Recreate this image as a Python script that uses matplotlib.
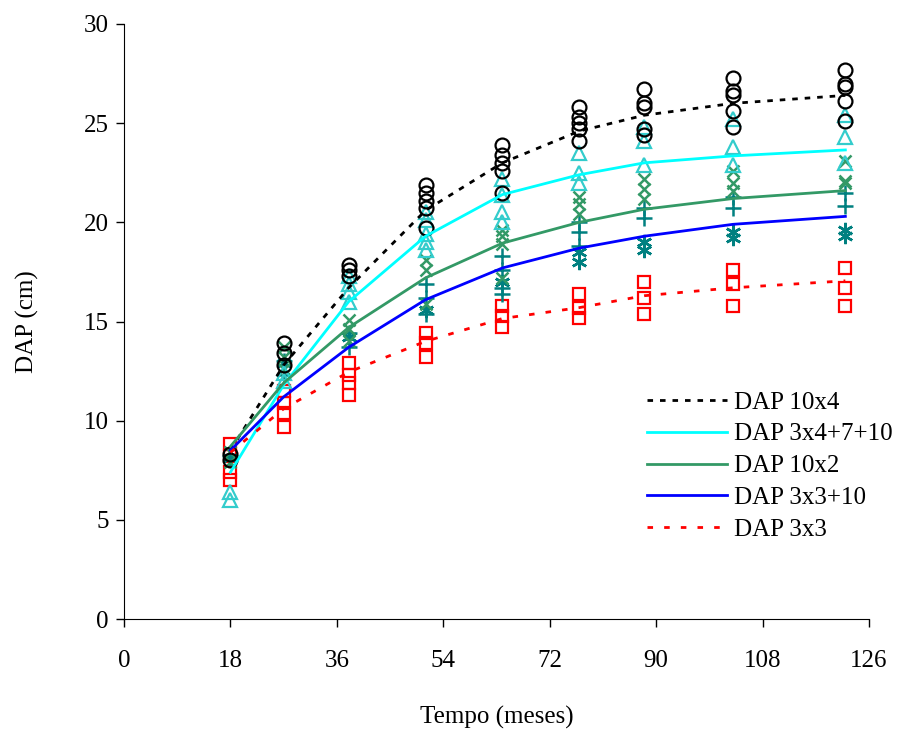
import matplotlib
matplotlib.use("Agg")
import matplotlib.pyplot as plt

plt.rcParams['font.family'] = ['Liberation Serif', 'DejaVu Serif']

# measurement times (months)
times = [18, 27, 38, 51, 64, 77, 88, 103, 122]

# fitted curves (cm)
fit_10x4 = [8.5, 12.8, 16.7, 20.6, 23.0, 24.6, 25.4, 26.0, 26.4]
fit_3x4 = [7.4, 11.8, 16.0, 19.3, 21.4, 22.4, 23.0, 23.35, 23.65]
fit_10x2 = [8.7, 11.9, 14.7, 17.2, 18.95, 20.0, 20.66, 21.2, 21.6]
fit_3x3_10 = [8.5, 11.2, 13.7, 16.1, 17.7, 18.7, 19.3, 19.9, 20.3]
fit_3x3 = [8.4, 10.6, 12.45, 14.0, 15.15, 15.7, 16.3, 16.7, 17.05]

# observed values per time
obs_circ = [[8.3, 8.0], [13.9, 13.4, 12.8], [17.85, 17.6, 17.3], [21.9, 21.5, 21.1, 20.7, 19.7],
            [23.9, 23.4, 23.0, 22.6, 21.5], [25.8, 25.3, 25.0, 24.7, 24.1],
            [26.7, 26.0, 25.8, 24.7, 24.4], [27.3, 26.6, 26.4, 25.6, 24.8],
            [27.7, 27.0, 26.8, 26.1, 25.1]]
obs_tri = [[6.4, 6.0], [12.4, 12.0], [17.3, 16.9, 16.5, 16.0], [20.5, 20.1, 19.4, 19.0, 18.6],
           [22.2, 21.4, 20.5, 20.0], [23.5, 22.5, 22.0], [24.8, 24.1, 22.9],
           [25.2, 23.8, 22.9], [25.4, 24.3, 23.0]]
obs_x = [[8.4, 7.9], [13.7, 13.2, 12.6], [15.1, 14.6, 14.0], [18.1, 17.6, 15.9],
         [19.6, 19.3, 18.9, 17.2], [21.3, 20.9, 20.4], [22.2, 21.7, 21.2],
         [22.6, 22.0, 21.6], [23.1, 22.1, 22.0]]
obs_plus = [[8.2], [13.0, 12.3], [14.4, 13.7], [16.9, 16.2, 15.4],
            [18.3, 17.6, 16.7, 16.4], [20.0, 19.5, 18.8], [20.7, 20.2],
            [21.3, 20.7], [21.5, 20.8]]
obs_ast = [[8.1], [12.9], [14.2], [15.6], [17.0], [18.5, 18.0], [19.0, 18.6],
           [19.5, 19.2], [19.6, 19.3]]
obs_sq = [[8.8, 8.2, 7.4, 7.0], [11.5, 10.9, 10.4, 9.7], [12.9, 12.3, 11.9, 11.3],
          [14.4, 13.9, 13.2], [15.8, 15.3, 14.7], [16.4, 15.7, 15.2],
          [17.0, 16.2, 15.4], [17.6, 16.9, 15.8], [17.7, 16.7, 15.8]]

labels = ["DAP 10x4", "DAP 3x4+7+10", "DAP 10x2", "DAP 3x3+10", "DAP 3x3"]
xticks = [0, 18, 36, 54, 72, 90, 108, 126]
yticks = [0, 5, 10, 15, 20, 25, 30]

fig = plt.figure(figsize=(9, 7.31), dpi=100)
ax = fig.add_axes([124/900, 112/731, 745/900, 595/731])


def scatter(obs, **kw):
    xs, ys = [], []
    for t, vals in zip(times, obs):
        for v in vals:
            xs.append(t)
            ys.append(v)
    ax.plot(xs, ys, linestyle='none', **kw)


ms = 9
scatter(obs_sq, marker='s', ms=ms, mfc='none', mec='#FF0000', mew=1.6, zorder=3)
scatter(obs_ast, marker=(6, 2, 0), ms=ms + 2, mec='#008080', mew=1.8, zorder=3)
scatter(obs_plus, marker='+', ms=ms + 3, mec='#008080', mew=1.8, zorder=3)
scatter(obs_x, marker='x', ms=ms, mec='#339966', mew=1.8, zorder=3)
scatter(obs_tri, marker='^', ms=ms + 1, mfc='none', mec='#33CCCC', mew=1.6, zorder=3)
scatter(obs_circ, marker='o', ms=ms + 1, mfc='none', mec='black', mew=1.6, zorder=3)

ax.plot(times, fit_10x4, color='black', lw=2, linestyle=(0, (2, 2.5)), label=labels[0], zorder=4)
ax.plot(times, fit_3x4, color='#00FFFF', lw=2, label=labels[1], zorder=4)
ax.plot(times, fit_10x2, color='#339966', lw=2, label=labels[2], zorder=4)
ax.plot(times, fit_3x3_10, color='#0000FF', lw=2, label=labels[3], zorder=4)
ax.plot(times, fit_3x3, color='#FF0000', lw=2, linestyle=(0, (2, 4)), label=labels[4], zorder=4)

ax.set_xlim(0, 126)
ax.set_ylim(0, 30)
ax.set_xticks(xticks)
ax.set_yticks(yticks)
ax.spines['top'].set_visible(False)
ax.spines['right'].set_visible(False)
ax.tick_params(direction='out', length=6, width=1, labelsize=18)
ax.tick_params(axis='x', pad=16)
ax.tick_params(axis='y', pad=5)
ax.set_xlabel("Tempo (meses)", fontsize=18, labelpad=25)
ax.set_ylabel("DAP (cm)", fontsize=18, labelpad=32)

leg = ax.legend(loc='center left', bbox_to_anchor=(0.68, 0.5), frameon=False,
                fontsize=18, handlelength=3.2, handletextpad=0.3, labelspacing=0.37,
                borderpad=0, borderaxespad=0)
leg.set_bbox_to_anchor((647/900, (731-466)/731), transform=fig.transFigure)

fig.savefig("out.png", dpi=100)
